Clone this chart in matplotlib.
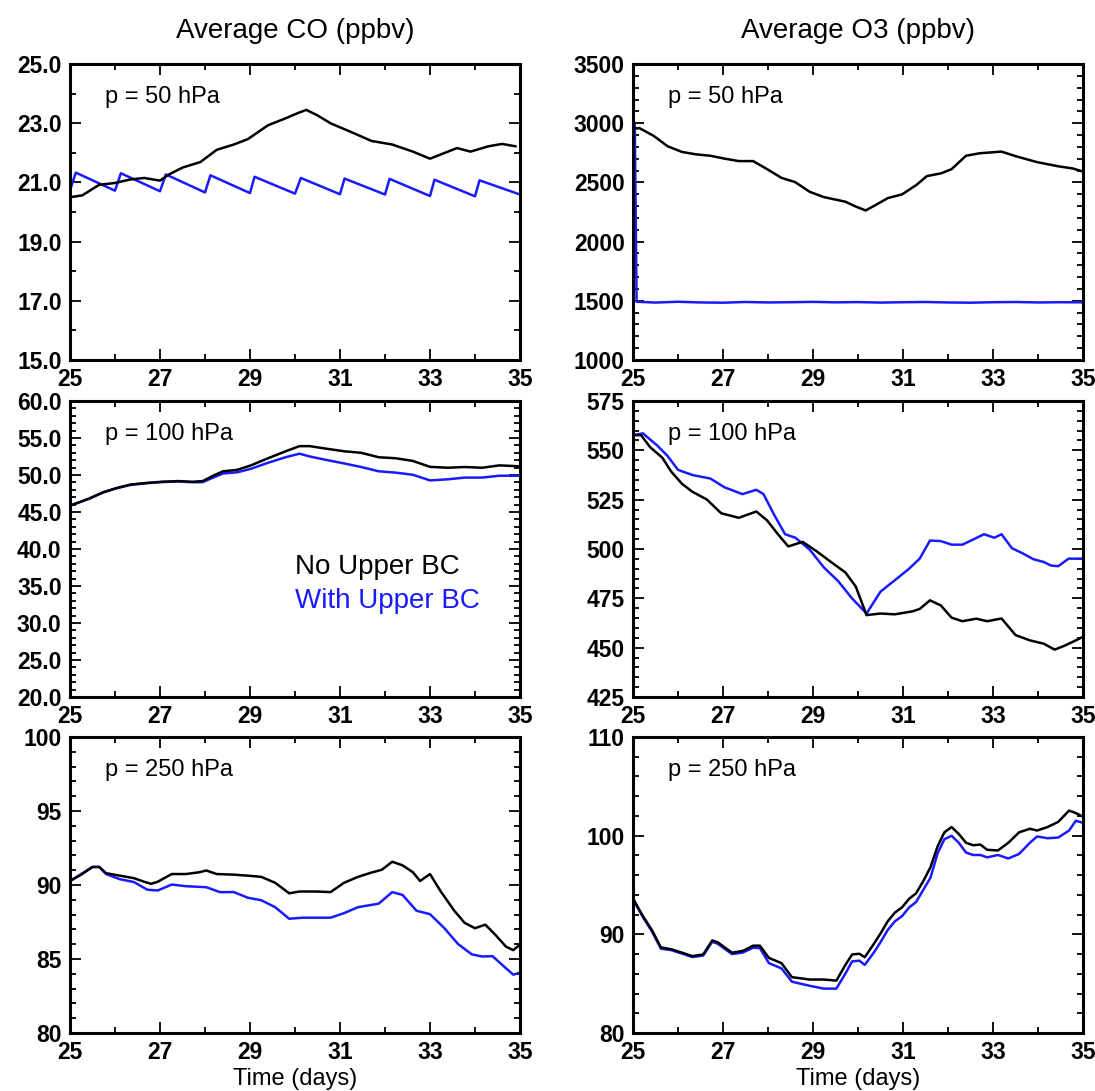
import matplotlib
matplotlib.use("Agg")
import matplotlib.pyplot as plt
from matplotlib.ticker import MultipleLocator, FormatStrFormatter

plt.rcParams['font.family'] = ['Liberation Sans', 'DejaVu Sans']

# ---- CO, p = 50 hPa ----
co50_t_nobc = [25.0, 25.27, 25.65, 26.0, 26.34, 26.65, 27.0, 27.2, 27.5, 27.9, 28.26, 28.64, 28.95,
               29.4, 29.8, 30.06, 30.25, 30.48, 30.8, 31.25, 31.7, 32.16, 32.62, 33.0, 33.3, 33.6,
               33.9, 34.3, 34.6, 34.9]
co50_nobc = [20.50, 20.56, 20.92, 20.98, 21.10, 21.15, 21.06, 21.27, 21.50, 21.69, 22.10, 22.28, 22.46,
             22.93, 23.17, 23.34, 23.45, 23.28, 22.99, 22.70, 22.40, 22.28, 22.04, 21.80, 21.98, 22.16,
             22.04, 22.22, 22.30, 22.22]
co50_t_bc = [25.0, 25.13, 26.0, 26.13, 27.0, 27.13, 28.0, 28.12, 29.0, 29.1, 30.0, 30.13, 31.0, 31.1,
             32.0, 32.1, 33.0, 33.1, 34.0, 34.1, 35.0]
co50_bc = [20.74, 21.33, 20.72, 21.31, 20.70, 21.27, 20.66, 21.24, 20.64, 21.19, 20.62, 21.15, 20.60, 21.13,
           20.59, 21.12, 20.54, 21.09, 20.53, 21.07, 20.59]

# ---- O3, p = 50 hPa ----
o350_t_nobc = [25.0, 25.14, 25.46, 25.77, 26.09, 26.4, 26.72, 27.03, 27.35, 27.67, 27.98, 28.3, 28.6,
               28.93, 29.24, 29.72, 29.95, 30.17, 30.43, 30.66, 30.98, 31.3, 31.53, 31.85, 32.08, 32.4,
               32.7, 33.19, 33.5, 33.97, 34.45, 34.77, 35.0]
o350_nobc = [2953, 2959, 2893, 2805, 2757, 2737, 2725, 2701, 2680, 2680, 2612, 2538, 2503,
             2420, 2376, 2337, 2296, 2263, 2317, 2367, 2399, 2479, 2553, 2577, 2612, 2725,
             2746, 2760, 2722, 2672, 2636, 2618, 2592]
o350_t_bc = [25.0, 25.04, 25.08, 25.5, 26.0, 26.5, 27.0, 27.5, 28.0, 28.5, 29.0, 29.5, 30.0, 30.5, 31.0,
             31.5, 32.0, 32.5, 33.0, 33.5, 34.0, 34.5, 35.0]
o350_bc = [2997, 2985, 1492, 1485, 1492, 1486, 1484, 1490, 1486, 1488, 1491, 1487, 1489, 1485, 1488,
           1490, 1486, 1484, 1488, 1490, 1486, 1488, 1487]

# ---- CO, p = 100 hPa ----
co100_t = [25.0, 25.42, 25.73, 26.03, 26.34, 26.72, 27.03, 27.41, 27.72, 27.95, 28.18, 28.4, 28.72,
           29.02, 29.4, 29.79, 30.1, 30.33, 30.7, 31.1, 31.47, 31.86, 32.24, 32.62, 33.0, 33.4,
           33.77, 34.16, 34.54, 35.0]
co100_nobc = [45.86, 46.80, 47.66, 48.23, 48.70, 48.94, 49.08, 49.18, 49.08, 49.18, 49.90, 50.50, 50.70,
              51.30, 52.26, 53.20, 53.90, 53.90, 53.55, 53.20, 53.00, 52.40, 52.26, 51.90, 51.10, 50.98,
              51.08, 50.98, 51.30, 51.17]
co100_bc = [45.86, 46.78, 47.62, 48.20, 48.66, 48.90, 49.04, 49.12, 49.02, 49.04, 49.65, 50.20, 50.37,
            50.84, 51.65, 52.40, 52.88, 52.50, 52.03, 51.55, 51.08, 50.50, 50.32, 50.03, 49.27, 49.42,
            49.65, 49.65, 49.90, 49.90]

# ---- O3, p = 100 hPa ----
o3100_t_nobc = [25.0, 25.18, 25.38, 25.65, 25.85, 26.09, 26.32, 26.64, 26.96, 27.35, 27.74, 27.98, 28.22,
                28.45, 28.77, 29.09, 29.4, 29.72, 29.95, 30.19, 30.5, 30.82, 31.21, 31.37, 31.6, 31.84,
                32.08, 32.32, 32.63, 32.87, 33.19, 33.5, 33.82, 34.13, 34.37, 34.6, 34.84, 35.0]
o3100_nobc = [557.7, 557.7, 551.6, 546.3, 539.2, 533.0, 529.0, 525.1, 518.1, 515.8, 519.0, 514.5, 507.5,
              501.3, 503.6, 498.7, 493.4, 488.1, 481.0, 466.5, 467.3, 466.9, 468.4, 469.6, 474.0, 471.4,
              465.2, 463.4, 464.7, 463.4, 464.8, 456.4, 453.7, 452.0, 449.0, 451.1, 453.7, 455.5]
o3100_t_bc = [25.0, 25.22, 25.54, 25.77, 26.0, 26.32, 26.72, 27.03, 27.43, 27.74, 27.9, 28.14, 28.38,
              28.61, 28.93, 29.24, 29.56, 29.87, 30.19, 30.5, 30.82, 31.13, 31.37, 31.6, 31.84, 32.08,
              32.32, 32.56, 32.8, 33.03, 33.19, 33.42, 33.66, 33.9, 34.13, 34.29, 34.45, 34.68, 35.0]
o3100_bc = [557.7, 558.6, 552.4, 547.1, 540.1, 537.5, 535.7, 531.3, 527.8, 530.0, 527.8, 517.2, 507.5,
            505.7, 499.6, 490.7, 483.7, 474.9, 467.3, 478.4, 484.2, 489.9, 495.1, 504.3, 504.0, 502.2,
            502.2, 504.8, 507.5, 505.7, 507.5, 500.4, 497.8, 494.8, 493.4, 491.6, 491.3, 495.1, 495.1]

# ---- CO, p = 250 hPa ----
co250_t_nobc = [25.0, 25.27, 25.5, 25.65, 25.8, 26.11, 26.42, 26.65, 26.8, 26.95, 27.26, 27.57, 27.87,
                28.03, 28.26, 28.64, 28.95, 29.25, 29.56, 29.87, 30.1, 30.48, 30.79, 31.09, 31.4, 31.7,
                31.93, 32.16, 32.39, 32.62, 32.78, 33.0, 33.24, 33.54, 33.77, 34.0, 34.23, 34.46, 34.69,
                34.85, 35.0]
co250_nobc = [90.27, 90.74, 91.22, 91.22, 90.80, 90.63, 90.46, 90.22, 90.08, 90.22, 90.74, 90.74, 90.86,
              90.98, 90.74, 90.70, 90.63, 90.55, 90.15, 89.44, 89.56, 89.56, 89.52, 90.15, 90.55, 90.84,
              91.03, 91.57, 91.33, 90.86, 90.27, 90.74, 89.56, 88.26, 87.44, 87.08, 87.32, 86.61, 85.83,
              85.60, 85.97]
co250_t_bc = [25.0, 25.5, 25.65, 25.8, 26.11, 26.42, 26.72, 26.95, 27.26, 27.57, 28.03, 28.33, 28.64,
              28.95, 29.25, 29.56, 29.87, 30.17, 30.79, 31.09, 31.4, 31.86, 32.16, 32.39, 32.7, 33.0,
              33.32, 33.62, 33.93, 34.16, 34.39, 34.69, 34.85, 35.0]
co250_bc = [90.27, 91.22, 91.22, 90.74, 90.39, 90.20, 89.68, 89.63, 90.03, 89.92, 89.85, 89.52, 89.52,
            89.14, 88.97, 88.50, 87.72, 87.79, 87.79, 88.10, 88.50, 88.74, 89.52, 89.33, 88.26, 88.03,
            87.08, 86.02, 85.31, 85.17, 85.19, 84.37, 83.94, 84.08]

# ---- O3, p = 250 hPa ----
o3250_t = [25.0, 25.22, 25.42, 25.62, 25.85, 26.09, 26.32, 26.56, 26.76, 26.88, 27.2, 27.44, 27.67,
           27.82, 28.02, 28.3, 28.53, 28.93, 29.24, 29.52, 29.72, 29.87, 30.03, 30.15, 30.35, 30.5,
           30.66, 30.82, 30.98, 31.14, 31.29, 31.45, 31.61, 31.77, 31.92, 32.08, 32.24, 32.4, 32.56,
           32.72, 32.87, 33.11, 33.34, 33.58, 33.82, 33.98, 34.21, 34.45, 34.69, 34.84, 35.0]
o3250_nobc = [93.62, 91.85, 90.44, 88.67, 88.49, 88.14, 87.79, 87.96, 89.38, 89.20, 88.14, 88.32, 88.85,
              88.85, 87.61, 87.08, 85.66, 85.42, 85.42, 85.31, 86.90, 87.96, 88.03, 87.68, 89.02, 90.08,
              91.32, 92.20, 92.74, 93.62, 94.15, 95.39, 96.80, 98.93, 100.34, 100.87, 100.17, 99.28, 99.03,
              99.10, 98.57, 98.50, 99.28, 100.34, 100.70, 100.52, 100.87, 101.40, 102.54, 102.29, 101.93]
o3250_bc = [93.55, 91.75, 90.30, 88.55, 88.40, 88.05, 87.70, 87.85, 89.25, 89.05, 88.00, 88.15, 88.65,
            88.60, 87.08, 86.55, 85.20, 84.78, 84.50, 84.50, 86.02, 87.26, 87.33, 86.90, 88.14, 89.20,
            90.44, 91.32, 91.85, 92.74, 93.27, 94.50, 95.74, 98.22, 99.64, 99.99, 99.28, 98.29, 98.04,
            98.04, 97.80, 98.04, 97.69, 98.15, 99.28, 99.92, 99.74, 99.81, 100.52, 101.51, 101.30]

titles = ['Average CO (ppbv)', 'Average O3 (ppbv)']
levels = ['p = 50 hPa', 'p = 100 hPa', 'p = 250 hPa']
x_ticks = [25, 27, 29, 31, 33, 35]

# (ylim, major step, minor step, label format) per panel
yaxes = {
    (0, 0): ((15, 25), 2, 1, '%.1f'),
    (0, 1): ((1000, 3500), 500, 100, '%d'),
    (1, 0): ((20, 60), 5, 1, '%.1f'),
    (1, 1): ((425, 575), 25, 5, '%d'),
    (2, 0): ((80, 100), 5, 1, '%d'),
    (2, 1): ((80, 110), 10, 2, '%d'),
}

series = {
    (0, 0): ((co50_t_nobc, co50_nobc), (co50_t_bc, co50_bc)),
    (0, 1): ((o350_t_nobc, o350_nobc), (o350_t_bc, o350_bc)),
    (1, 0): ((co100_t, co100_nobc), (co100_t, co100_bc)),
    (1, 1): ((o3100_t_nobc, o3100_nobc), (o3100_t_bc, o3100_bc)),
    (2, 0): ((co250_t_nobc, co250_nobc), (co250_t_bc, co250_bc)),
    (2, 1): ((o3250_t, o3250_nobc), (o3250_t, o3250_bc)),
}

blue = '#1a1aff'

fig = plt.figure(figsize=(10.95, 10.91), dpi=100)
lefts = [70 / 1095, 633 / 1095]
bottoms = [1 - 360 / 1091, 1 - 697 / 1091, 1 - 1033 / 1091]
w = 450 / 1095
h = 296 / 1091

for r in range(3):
    for c in range(2):
        ax = fig.add_axes([lefts[c], bottoms[r], w, h])
        (tn, vn), (tb, vb) = series[(r, c)]
        ax.plot(tn, vn, color='black', lw=1.8, zorder=3)
        ax.plot(tb, vb, color=blue, lw=1.8, zorder=2)
        (y0, y1), major, minor, fmt = yaxes[(r, c)]
        ax.set_xlim(25, 35)
        ax.set_ylim(y0, y1)
        ax.set_xticks(x_ticks)
        ax.xaxis.set_minor_locator(MultipleLocator(1))
        ax.yaxis.set_major_locator(MultipleLocator(major, offset=y0 % major))
        ax.yaxis.set_minor_locator(MultipleLocator(minor))
        ax.yaxis.set_major_formatter(FormatStrFormatter(fmt))
        ax.tick_params(which='both', direction='in', top=True, right=True, width=1.3)
        ax.tick_params(which='major', length=8, labelsize=16.5, pad=6)
        ax.tick_params(which='minor', length=4.5)
        for lab in ax.get_xticklabels() + ax.get_yticklabels():
            lab.set_fontweight('bold')
        for sp in ax.spines.values():
            sp.set_linewidth(2.2)
        ax.text(0.078, 0.89, levels[r], transform=ax.transAxes, fontsize=17,
                va='center', ha='left', zorder=4,
                bbox=dict(facecolor='white', edgecolor='none', pad=1))
        if r == 0:
            ax.set_title(titles[c], fontsize=20, pad=19)
        if r == 2:
            ax.set_xlabel('Time (days)', fontsize=17, labelpad=3)
        if (r, c) == (1, 0):
            ax.text(0.5, 0.44, 'No Upper BC', transform=ax.transAxes, fontsize=20,
                    color='black', va='center')
            ax.text(0.5, 0.325, 'With Upper BC', transform=ax.transAxes, fontsize=20,
                    color=blue, va='center')

fig.savefig('out.png', dpi=100)
